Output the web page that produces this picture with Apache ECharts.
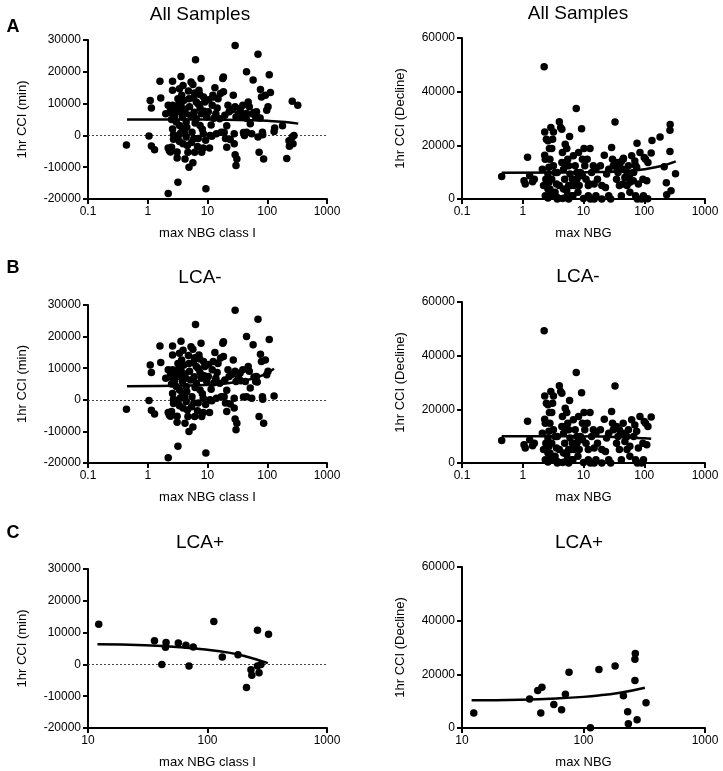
<!DOCTYPE html>
<html><head><meta charset="utf-8">
<script src="https://cdn.jsdelivr.net/npm/echarts@6/dist/echarts.min.js"></script>
<style>html,body{margin:0;padding:0;background:#fff}#c{width:723px;height:771px}</style>
</head><body><div id="c"></div>
<script>
// LCA- samples: [max NBG, 1hr CCI (min)]
const lcaNegMin = [
[0.44,-3000],[1.05,-200],[1.1,11000],[1.15,8600],[1.15,-3300],[1.3,-4500],[1.6,17000],[1.65,11800],
[2.0,6800],[2.2,9500],[2.2,-4000],[2.3,-4800],[2.2,-18300],[2.6,17000],[2.6,14200],[2.6,9500],[2.6,6800],[2.5,5000],[2.6,2000],[2.7,200],[2.7,-1200],[2.5,-3700],[2.8,6000],[2.9,8400],
[3.6,18500],[3.4,14700],[3.2,11500],[3.6,9500],[3.4,7400],[3.8,5800],[3.4,3100],[3.8,2100],[3.2,-500],[3.4,-1900],[3.1,-5200],[3.1,-7100],[3.2,-14700],[3.9,15700],[4.0,11000],[4.3,6800],[4.4,4200],[4.1,1000],[4.4,-500],[4.6,-3200],[4.2,-7400],[4.9,-10000],[4.7,-5300],[4.9,11500],[5.0,9000],
[5.3,16800],[5.7,16000],[6.1,13300],[6.5,10500],[6.0,7300],[6.5,5200],[5.5,1000],[5.9,-1000],[5.7,-8600],[6.1,-5300],[6.3,23800],[7.2,14200],[7.5,8600],[7.9,6800],[7.5,3100],[8.0,-5300],[8.5,-4000],[8.5,500],[9.0,10500],[9.4,-16800],[9.7,5800],[7.0,-1000],[8.6,12100],[7.8,17900],
[10.3,7400],[10.8,-4000],[11,0],[11.5,3300],[12,9500],[12.5,12100],[13.3,15000],[13.8,6800],[14.1,500],[15,11500],[16,5200],[18,17900],[18.5,18400],[18.5,13700],[19,1000],[20,-1000],[21,-3700],[22,9500],[23,7400],[17,1000],[27,12600],[28,500],[28,-2600],[29,-6100],[30,-9500],[30,5800],[29,9000],[29,28300],
[31,-7400],[33,6800],[35,8400],[39,9500],[43,5800],[45,1000],[48,10500],[50,9000],[52,3700],[55,500],[58,17400],[64,5800],[66,7400],[73,-5300],[77,14400],[80,12100],[83,1000],[84,200],[87,-7400],[93,12600],[98,7900],[103,9000],[108,19100],[130,1200],[70,25500],[45,20000],
[2.4,8000],[2.9,-300],[3.0,4200],[3.3,9800],[3.5,600],[3.7,12600],[3.9,-2600],[4.2,8200],[4.5,2600],[4.8,14000],[5.2,6300],[5.4,-2200],[5.8,11800],[6.2,3900],[6.8,-3500],[7.0,9900],[7.4,12900],[8.2,1900],[8.8,7600],[9.3,-1500],[10.5,11200],[11.8,-300],[12.8,5400],[14.5,8600],[16.5,13200],[19.5,6300],[21,3000],[24,-1300],[26,8100],[36,6000],[40,900],[60,7200],[68,5600],[2.4,-5200]
];
// LCA- samples: [max NBG, 1hr CCI (Decline)]
const lcaNegDecline = [
[0.45,8400],[1.2,15600],[1.05,6800],[1.1,5600],[1.3,8700],[1.45,6400],[1.55,7400],
[2.25,49300],[2.3,25000],[2.3,16300],[2.35,14800],[2.1,11100],[2.2,5000],[2.4,7400],[2.35,1200],[2.45,22300],[2.6,21700],[2.75,18800],[2.9,26600],[3.1,22300],[3.2,25000],[3.0,18800],[2.8,14800],[2.7,11800],[2.6,9300],[2.7,6200],[2.8,3700],[3.0,1500],[2.6,400],[3.2,12400],[3.4,9900],[3.6,5600],[3.7,600],[4.0,28800],[4.2,26600],[4.4,26000],[4.5,17300],[4.4,13600],[4.7,11100],[4.9,7400],[4.7,3700],[5.1,600],[5.0,20400],[5.3,18800],[5.5,14800],[5.7,12400],[5.9,23300],[6.0,9300],[6.3,5000],[6.4,1200],[6.8,16100],[7.3,12400],[7.6,33700],[7.8,7400],[8.1,2500],[8.3,17300],[8.9,9900],[9.3,26200],[9.6,14800],[10,200],[10.2,18800],[10.5,12400],[11,7400],[11.5,14800],[12,5000],[12.8,18800],[13,0],[13.6,9900],[14.5,12400],[15,5600],[16,1200],[17,7400],[19,12400],[20,0],[20,5000],[22,16300],[24,9300],[26,1200],[28,0],[29,19200],[30,14800],[31,12400],[33,28700],[35,7400],[37,9900],[39,5000],[42,1200],[45,11100],[48,8000],[52,5000],[55,12400],[58,2500],[62,16100],[67,9900],[72,1200],[75,11800],[80,5600],[85,17300],[90,0],[95,7400],[100,15500],[105,14800],[110,6800],[130,17100],[115,13600],[97,1200],[70,14200],
[2.6,3700],[3.4,2500],[4.0,5000],[4.5,200],[5.3,3100],[5.7,0],[6.7,1200],[7.1,5000],[8.5,5000],[3.0,7400],[3.7,9900],[5.0,13600],[6.6,7400],[16,11100],[35,13600],[52,9900],[15,0],[12,1200],[2.4,5000],[2.7,1200],[3.7,0],[5.7,5000],[7.8,9900],[23,4300],[26,11100],[77,0],[58,6200],[39,12400],[45,14800],[9.6,8700]
];
// LCA+ samples
const lcaPosMin = [
[12.3,12600],[36,7400],[41.5,0],[45,6900],[44.5,5400],[57,6700],[66,6000],[70,-500],[76,5500],[113,13500],
[133,2300],[180,3000],[212,-7300],[231,-1700],[235,-3400],[262,10700],[262,-500],[270,-2600],[280,0],[324,9500]
];
const lcaPosDecline = [
[12.5,5600],[36,10800],[42,14000],[45.5,15200],[44.5,5600],[57,8800],[66,6800],[71,12600],[76,20800],[114,100],
[134,21800],[182,23100],[213,12000],[231,6100],[234,1600],[267,27800],[265,25600],[265,17700],[276,3100],[327,9400]
];
// Fitted lines
const fitAllMin = [[0.45,5000],[5,4990],[20,4930],[50,4800],[100,4600],[200,4200],[330,3700]];
const fitAllDecline = [[0.45,9800],[5,9870],[20,10050],[50,10450],[100,11100],[200,12400],[330,14000]];
const fitNegMin = [[0.45,4300],[5,4500],[20,5150],[40,6000],[70,7200],[100,8500],[130,9800]];
const fitNegDecline = [[0.45,10000],[5,9960],[20,9840],[50,9600],[100,9200],[130,9000]];
const fitPosMin = [[12,6300],[30,6000],[60,5400],[100,4600],[150,3700],[200,2700],[320,400]];
const fitPosDecline = [[12,10300],[30,10550],[60,11000],[100,11600],[150,12400],[200,13100],[320,15000]];

const panelTitles = ['All Samples','All Samples','LCA-','LCA-','LCA+','LCA+'];
const panelLetters = ['A','B','C'];
const xNames = ['max NBG class I','max NBG'];
const yNames = ['1hr CCI (min)','1hr CCI (Decline)'];

const FONT = '"Liberation Sans", Arial, Helvetica, sans-serif';
const grids = [
  {left:88, top:40, width:239, height:159},
  {left:462, top:38, width:243, height:161},
  {left:88, top:305, width:239, height:158},
  {left:462, top:302, width:243, height:161},
  {left:88, top:569, width:239, height:159},
  {left:462, top:567, width:243, height:161}
];
const axisLineStyle = {show:true, onZero:false, lineStyle:{color:'#000', width:2}};
const tickStyle = {show:true, length:5, inside:false, lineStyle:{color:'#000', width:2}};
const xMins = [0.1,0.1,0.1,0.1,10,10];
const xAxes = grids.map((g,i)=>({
  gridIndex:i, type:'log', logBase:10, min:xMins[i], max:1000,
  axisLine:axisLineStyle, axisTick:tickStyle, splitLine:{show:false}, minorTick:{show:false},
  axisLabel:{color:'#000', fontSize:12, fontFamily:FONT, margin:7, formatter:v=>String(+(+v).toPrecision(6))},
  name:xNames[i%2], nameLocation:'middle', nameGap:28,
  nameTextStyle:{color:'#000', fontSize:13, fontFamily:FONT}
}));
const yAxes = grids.map((g,i)=>{
  const left = i%2===0;
  return {
    gridIndex:i, type:'value',
    min: left ? -20000 : 0, max: left ? 30000 : 60000, interval: left ? 10000 : 20000,
    axisLine:axisLineStyle, axisTick:tickStyle, splitLine:{show:false},
    axisLabel:{color:'#000', fontSize:12, fontFamily:FONT, margin:7, formatter:v=>String(v)},
    name:yNames[i%2], nameLocation:'middle', nameGap: left ? 59 : 55,
    nameTextStyle:{color:'#000', fontSize:13, fontFamily:FONT}
  };
});
const scatterData = [
  lcaNegMin.concat(lcaPosMin), lcaNegDecline.concat(lcaPosDecline),
  lcaNegMin, lcaNegDecline, lcaPosMin, lcaPosDecline
];
const fits = [fitAllMin, fitAllDecline, fitNegMin, fitNegDecline, fitPosMin, fitPosDecline];
const series = [];
scatterData.forEach((d,i)=>{
  const s = {type:'scatter', xAxisIndex:i, yAxisIndex:i, data:d, symbol:'circle', symbolSize:7.5,
    itemStyle:{color:'#000', opacity:1}, silent:true, z:3};
  if (i%2===0) {
    s.markLine = {silent:true, symbol:'none', label:{show:false}, animation:false,
      lineStyle:{color:'#444', width:1, type:[2,2]}, data:[{yAxis:0}], z:2};
  }
  series.push(s);
  series.push({type:'line', xAxisIndex:i, yAxisIndex:i, data:fits[i], smooth:true, showSymbol:false,
    symbol:'none', lineStyle:{color:'#000', width:2.5}, silent:true, z:4});
});
const titleX = [200,578,200,578,200,579];
const titleY = [15,14,278,277,543,543];
const graphics = [];
panelTitles.forEach((t,i)=>{
  graphics.push({type:'text', x:titleX[i], y:titleY[i], style:{text:t, fill:'#000', font:'19px '+FONT, align:'center', verticalAlign:'middle', textAlign:'center', textVerticalAlign:'middle'}});
});
const letterY = [27,268,533];
panelLetters.forEach((t,i)=>{
  graphics.push({type:'text', x:13, y:letterY[i], style:{text:t, fill:'#000', font:'bold 18px '+FONT, align:'center', verticalAlign:'middle', textAlign:'center', textVerticalAlign:'middle'}});
});
const chart = echarts.init(document.getElementById('c'), null, {renderer:'canvas'});
chart.setOption({
  animation:false, backgroundColor:'#fff',
  grid:grids, xAxis:xAxes, yAxis:yAxes, series:series, graphic:graphics
});
</script></body></html>
